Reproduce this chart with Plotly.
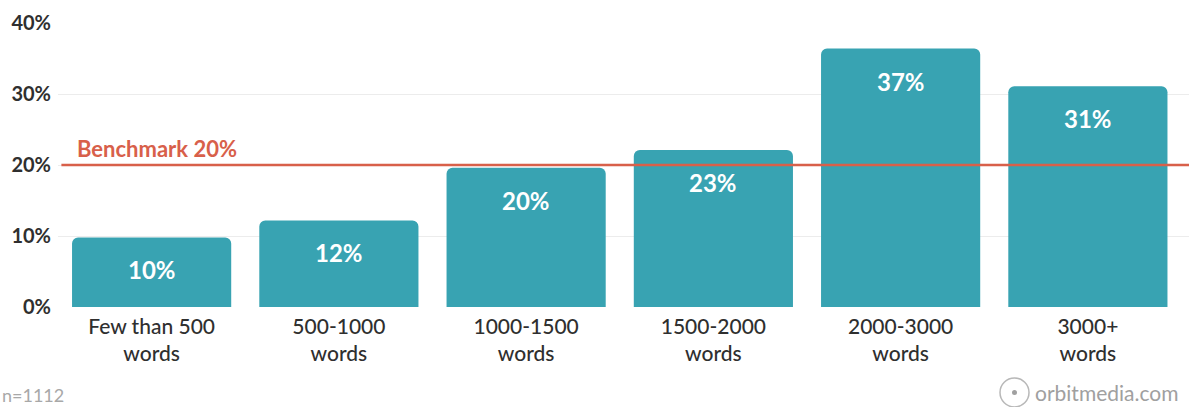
import plotly.graph_objects as go

categories = ["Few than 500<br>words", "500-1000<br>words", "1000-1500<br>words",
              "1500-2000<br>words", "2000-3000<br>words", "3000+<br>words"]
values = [9.8, 12.2, 19.6, 22.1, 36.4, 31.1]
labels = ["10%", "12%", "20%", "23%", "37%", "31%"]
benchmark = 20
y_ticks = [0, 10, 20, 30, 40]
y_tick_labels = ["0%", "10%", "20%", "30%", "40%"]

BAR = "#38a3b2"
RED = "#d8604a"
DARK = "#2f2f2f"
FONT = "Lato"

fig = go.Figure()
fig.add_trace(go.Bar(
    x=list(range(len(categories))), y=values,
    marker=dict(color=BAR, line=dict(width=0)),
    hoverinfo="skip",
))

for i, (v, t) in enumerate(zip(values, labels)):
    fig.add_annotation(x=i, y=v, text=f"<b>{t}</b>", showarrow=False,
                       yanchor="top", yshift=-16,
                       font=dict(family=FONT, size=24, color="white"))

fig.add_shape(type="line", xref="paper", x0=0.003, x1=1, yref="y",
              y0=benchmark, y1=benchmark, line=dict(color=RED, width=2.5),
              layer="above")
fig.add_annotation(xref="paper", x=0.015, y=benchmark, yref="y", text="<b>Benchmark 20%</b>",
                   showarrow=False, xanchor="left", yanchor="bottom", yshift=1,
                   font=dict(family=FONT, size=22, color=RED))

# footer
fig.add_annotation(xref="paper", yref="paper", x=-0.051, y=(307 - 395) / 284, text="n=1112",
                   showarrow=False, xanchor="left", yanchor="middle",
                   font=dict(family=FONT, size=18, color="#a8a8a8"))
fig.add_shape(type="circle", xref="paper", yref="paper",
              x0=(1000 - 58) / 1131, x1=(1029 - 58) / 1131,
              y0=(307 - 407) / 284, y1=(307 - 378) / 284,
              line=dict(color="#b8b8b8", width=1.5))
fig.add_shape(type="circle", xref="paper", yref="paper",
              x0=(1012 - 58) / 1131, x1=(1017 - 58) / 1131,
              y0=(307 - 395) / 284, y1=(307 - 390) / 284,
              fillcolor="#a0a0a0", line=dict(width=0))
fig.add_annotation(xref="paper", yref="paper", x=(1033 - 58) / 1131, y=(307 - 392) / 284,
                   text="orbitmedia.com", showarrow=False, xanchor="left", yanchor="middle",
                   font=dict(family=FONT, size=21, color="#a0a0a0"))

fig.update_layout(
    width=1189, height=407,
    margin=dict(l=58, r=0, t=23, b=100),
    paper_bgcolor="white", plot_bgcolor="white",
    bargap=0.15, barcornerradius=6,
    showlegend=False,
    font=dict(family=FONT, color=DARK),
    xaxis=dict(tickmode="array", tickvals=list(range(len(categories))), ticktext=categories,
               range=[-0.5, 5.54], showgrid=False, zeroline=False, showline=False,
               ticks="", tickfont=dict(family=FONT, size=21, color=DARK, weight=500),
               ticklabelstandoff=5),
    yaxis=dict(range=[0, 40], tickvals=y_ticks, ticktext=[f"<b>{t}</b>" for t in y_tick_labels],
               showgrid=True, gridcolor="#ececec", gridwidth=1, zeroline=False,
               showline=False, ticks="", ticklabelstandoff=6,
               tickfont=dict(family=FONT, size=20, color=DARK)),
)

fig.write_html("out.html")
